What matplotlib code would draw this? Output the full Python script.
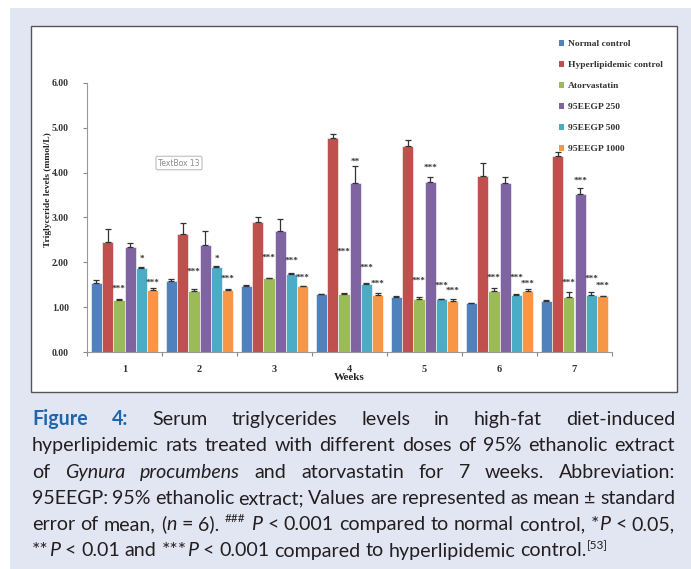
import matplotlib
matplotlib.use("Agg")
import matplotlib.pyplot as plt
import numpy as np
from matplotlib.patches import Rectangle, Patch

# ---------------- data ----------------
weeks = ['1', '2', '3', '4', '5', '6', '7']
groups = ['Normal control', 'Hyperlipidemic control', 'Atorvastatin',
          '95EEGP 250', '95EEGP 500', '95EEGP 1000']
colors = ['#4F81BD', '#C0504D', '#9BBB59', '#8064A2', '#4BACC6', '#F79646']

nc = [1.55, 1.58, 1.48, 1.29, 1.23, 1.09, 1.14]
hc = [2.46, 2.64, 2.91, 4.77, 4.60, 3.93, 4.38]
ator = [1.17, 1.35, 1.65, 1.30, 1.18, 1.37, 1.23]
e250 = [2.35, 2.39, 2.71, 3.76, 3.79, 3.78, 3.52]
e500 = [1.88, 1.89, 1.75, 1.51, 1.18, 1.27, 1.28]
e1000 = [1.38, 1.38, 1.47, 1.27, 1.14, 1.35, 1.24]

nc_err = [0.06, 0.05, 0.01, 0.01, 0.01, 0.01, 0.03]
hc_err = [0.28, 0.23, 0.11, 0.10, 0.13, 0.28, 0.08]
ator_err = [0.01, 0.06, 0.01, 0.01, 0.04, 0.05, 0.11]
e250_err = [0.08, 0.30, 0.25, 0.38, 0.12, 0.13, 0.13]
e500_err = [0.01, 0.03, 0.01, 0.03, 0.01, 0.03, 0.05]
e1000_err = [0.04, 0.02, 0.01, 0.05, 0.04, 0.05, 0.02]

means = [nc, hc, ator, e250, e500, e1000]
errs = [nc_err, hc_err, ator_err, e250_err, e500_err, e1000_err]

# (week index, series index, label, y position)
stars = [(0, 2, '***', 1.46), (0, 4, '*', 2.13), (0, 5, '***', 1.61),
         (1, 2, '***', 1.85), (1, 4, '*', 2.13), (1, 5, '***', 1.69),
         (2, 2, '***', 2.15), (2, 4, '***', 2.09), (2, 5, '***', 1.71),
         (3, 2, '***', 2.28), (3, 3, '**', 4.30), (3, 4, '***', 1.93), (3, 5, '***', 1.58),
         (4, 2, '***', 1.64), (4, 3, '***', 4.17), (4, 4, '***', 1.53), (4, 5, '***', 1.42),
         (5, 2, '***', 1.70), (5, 4, '***', 1.71), (5, 5, '***', 1.57),
         (6, 2, '***', 1.61), (6, 3, '***', 3.88), (6, 4, '***', 1.68), (6, 5, '***', 1.53)]

yticks = [0, 1, 2, 3, 4, 5, 6]

# ---------------- figure ----------------
W, H = 691, 569
fig = plt.figure(figsize=(W / 100, H / 100), dpi=100)
fig.patch.set_facecolor('white')

def px(x, y):
    return x / W, 1 - y / H

# lavender page background
fig.patches.append(Rectangle(px(10, 569), (691 - 10) / W, (569 - 8) / H,
                             transform=fig.transFigure, facecolor='#e2e5f2',
                             edgecolor='none', zorder=0))
# white chart panel
fig.patches.append(Rectangle(px(32, 393), (678 - 32) / W, (393 - 27) / H,
                             transform=fig.transFigure, facecolor='#9a9a9a',
                             edgecolor='none', zorder=0.5))
fig.patches.append(Rectangle(px(31, 392), (677 - 31) / W, (392 - 26) / H,
                             transform=fig.transFigure, facecolor='white',
                             edgecolor='#555555', linewidth=1.0, zorder=1))

serif = 'Liberation Serif'
ax = fig.add_axes([87 / W, 1 - 352 / H, (612 - 87) / W, (352 - 83) / H])
ax.set_facecolor('none')
ax.set_zorder(2)

bw = 0.151
x0 = np.arange(len(weeks)) + 0.5
for j, (m, e) in enumerate(zip(means, errs)):
    xs = x0 + (j - 2.5) * bw
    ax.bar(xs, m, width=bw, color=colors[j], edgecolor='white', linewidth=0.4,
           label=groups[j], zorder=2)
    ax.errorbar(xs, m, yerr=[np.zeros(len(e)), e], fmt='none', ecolor='#333333',
                elinewidth=0.9, capsize=2.2, capthick=0.9, zorder=3)

for wi, si, lab, yv in stars:
    ax.text(x0[wi] + (si - 2.5) * bw, yv - 0.1, lab, ha='center', va='baseline',
            fontsize=6.6, family=serif, fontweight='bold', color='#333333', zorder=4)

ax.set_xlim(0, 7)
ax.set_ylim(0, 6)
ax.set_yticks(yticks)
ax.set_yticklabels([f'{v:.2f}' for v in yticks], family=serif, fontsize=7,
                   fontweight='bold', color='#333333')
ax.set_xticks(np.arange(0, 8))
ax.set_xticklabels([])
ax.set_xticks(x0, minor=True)
ax.set_xticklabels(weeks, minor=True, family=serif, fontsize=7.5,
                   fontweight='bold', color='#333333')
ax.tick_params(axis='x', which='minor', length=0, pad=9)
ax.tick_params(axis='x', which='major', length=3, color='#888888', direction='out')
ax.tick_params(axis='y', length=3, color='#888888', direction='out', pad=10)
for s in ['top', 'right']:
    ax.spines[s].set_visible(False)
for s in ['left', 'bottom']:
    ax.spines[s].set_color('#999999')
    ax.spines[s].set_linewidth(0.8)

ax.set_xlabel('Weeks', family=serif, fontsize=8, fontweight='bold',
              color='#222222', labelpad=0)
fig.text(*px(47.5, 190), 'Triglyceride levels (mmol/L)', rotation=90, ha='center',
         va='center', family=serif, fontsize=6.8, fontweight='bold', color='#222222')

# legend
handles = [Patch(facecolor=c, edgecolor='none') for c in colors]
leg = fig.legend(handles, groups, loc='upper left', bbox_to_anchor=px(559, 40),
                 frameon=False, prop={'family': serif, 'size': 6.8, 'weight': 'bold'},
                 handlelength=0.55, handleheight=0.55, handletextpad=0.35,
                 labelspacing=1.36, borderaxespad=0, borderpad=0)
for t in leg.get_texts():
    t.set_color('#333333')

# TextBox 13 artefact
fig.text(*px(179, 163), 'TextBox 13', ha='center', va='center', fontsize=5.5,
         family='DejaVu Sans', color='#8a8a8a', zorder=5,
         bbox=dict(boxstyle='round,pad=0.3,rounding_size=0.2', facecolor='white',
                   edgecolor='#b5b5b5', linewidth=0.7))

# ---------------- caption ----------------
cap_font = 'Lato'
blue = '#1c67b0'
txtc = '#231f20'
N = {'family': cap_font, 'color': txtc}
I = {'family': cap_font, 'color': txtc, 'style': 'italic'}
B = {'family': cap_font, 'color': blue, 'weight': 'bold'}
SUP = {'family': cap_font, 'color': txtc, 'sup': True}

def words(s, st=N):
    return [[(w, st)] for w in s.split(' ')]

lines = [
    [[('Figure', B)], [('4:', B)]] + words('Serum triglycerides levels in high-fat diet-induced'),
    words('hyperlipidemic rats treated with different doses of 95% ethanolic extract'),
    words('of') + [[('Gynura', I)], [('procumbens', I)]] + words('and atorvastatin for 7 weeks. Abbreviation:'),
    words('95EEGP: 95% ethanolic extract; Values are represented as mean ± standard'),
    words('error of mean,') + [[('(', N), ('n', I)]] + words('= 6).') +
    [[('###', SUP)], [('P', I)]] + words('< 0.001 compared to normal control,') +
    [[('*', N), ('P', I)]] + words('< 0.05,'),
    [[('**', N), ('P', I)]] + words('< 0.01 and') + [[('***', N), ('P', I)]] +
    words('< 0.001 compared to hyperlipidemic') +
    [[('control.', N), ('[53]', SUP)]],
]

fig.canvas.draw()
renderer = fig.canvas.get_renderer()

def run_width(text, st, size):
    kw = {k: v for k, v in st.items() if k != 'sup'}
    fs = size * 0.6 if st.get('sup') else size
    t = fig.text(0, 0, text, fontsize=fs, **kw)
    w = t.get_window_extent(renderer).width
    t.remove()
    return w

def word_width(word, size):
    return sum(run_width(t, st, size) for t, st in word)

def space_width(size):
    return run_width('a a', N, size) - run_width('aa', N, size)

left, right = 32, 675
avail = right - left

# font size: largest size at which every justified line fits with gaps >= 0.85 space
base = 10.0
sp = space_width(base)
fits = []
for line in lines[:-1]:
    nat = sum(word_width(w, base) for w in line) + 0.85 * sp * (len(line) - 1)
    fits.append(base * avail / nat)
size = min(fits)

base0, step = 425, 26.3
for li, line in enumerate(lines):
    ws = [word_width(w, size) for w in line]
    if li < len(lines) - 1:
        gap = (avail - sum(ws)) / (len(line) - 1)
    else:
        gap = space_width(size)
    x = left
    yb = base0 + li * step
    for word, wwid in zip(line, ws):
        xx = x
        for t, st in word:
            kw = {k: v for k, v in st.items() if k != 'sup'}
            if st.get('sup'):
                fig.text(*px(xx, yb - size * 0.55), t, fontsize=size * 0.6,
                         va='baseline', ha='left', **kw)
            else:
                fig.text(*px(xx, yb), t, fontsize=size, va='baseline', ha='left', **kw)
            xx += run_width(t, st, size)
        x += wwid + gap

fig.savefig('out.png', dpi=100, facecolor='white')
